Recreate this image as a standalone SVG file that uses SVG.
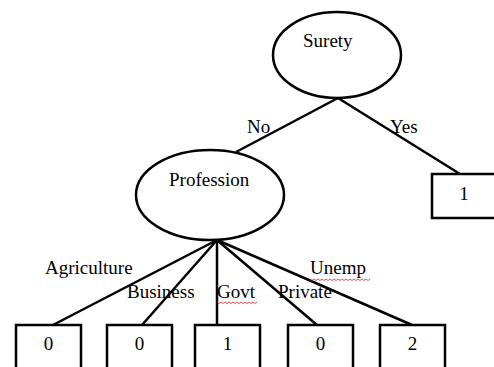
<svg xmlns="http://www.w3.org/2000/svg" width="494" height="367" viewBox="0 0 494 367" font-family="'Liberation Serif', 'Times New Roman', 'DejaVu Serif', serif">
<style>
.n{fill:#fff;stroke:#000;stroke-width:2.5}
.e{stroke:#000;stroke-width:2.5;fill:none}
text{font-family:'Liberation Serif','DejaVu Serif',serif;font-size:19px;fill:#000}
.c{text-anchor:middle}
.sq{fill:none;stroke:#d22;stroke-width:0.8}
</style>
<rect width="494" height="367" fill="#fff"/>
<g id="connectors">
<line class="e" x1="338" y1="98" x2="236" y2="152"/>
<line class="e" x1="338" y1="98" x2="460" y2="174"/>
<line class="e" x1="217" y1="240" x2="53" y2="325"/>
<line class="e" x1="217" y1="240" x2="142" y2="325"/>
<line class="e" x1="217" y1="240" x2="217" y2="325"/>
<line class="e" x1="217" y1="240" x2="317" y2="325"/>
<line class="e" x1="217" y1="240" x2="412" y2="325"/>
<text x="247" y="133">No</text>
<text x="390" y="133">Yes</text>
<text x="45" y="274">Agriculture</text>
<text x="127" y="298">Business</text>
<text x="217" y="298">Govt</text>
<text x="278" y="298">Private</text>
<text x="310" y="274">Unemp</text>
<path class="sq" d="M217 302 l2 1.5 l2 -1.5 l2 1.5 l2 -1.5 l2 1.5 l2 -1.5 l2 1.5 l2 -1.5 l2 1.5 l2 -1.5 l2 1.5 l2 -1.5 l2 1.5 l2 -1.5 l2 1.5 l2 -1.5 l2 1.5 l2 -1.5 l2 1.5 l2 -1.5"/>
<path class="sq" d="M310 279 l2 1.5 l2 -1.5 l2 1.5 l2 -1.5 l2 1.5 l2 -1.5 l2 1.5 l2 -1.5 l2 1.5 l2 -1.5 l2 1.5 l2 -1.5 l2 1.5 l2 -1.5 l2 1.5 l2 -1.5 l2 1.5 l2 -1.5 l2 1.5 l2 -1.5 l2 1.5 l2 -1.5 l2 1.5 l2 -1.5 l2 1.5 l2 -1.5 l2 1.5 l2 -1.5 l2 1.5 l2 -1.5"/>
</g>
<g id="surety"><ellipse class="n" cx="337" cy="55" rx="64" ry="43"/><text x="303" y="47">Surety</text></g>
<g id="profession"><ellipse class="n" cx="210" cy="195" rx="74" ry="45"/><text x="169" y="186">Profession</text></g>
<g id="leaf-yes"><rect class="n" x="432" y="174" width="65" height="44"/><text class="c" x="464" y="200">1</text></g>
<g id="leaf-agri"><rect class="n" x="16" y="325" width="65" height="46"/><text class="c" x="48.5" y="350">0</text></g>
<g id="leaf-business"><rect class="n" x="107" y="325" width="65" height="46"/><text class="c" x="139.5" y="350">0</text></g>
<g id="leaf-govt"><rect class="n" x="195" y="325" width="65" height="46"/><text class="c" x="227.5" y="350">1</text></g>
<g id="leaf-private"><rect class="n" x="288" y="325" width="65" height="46"/><text class="c" x="320.5" y="350">0</text></g>
<g id="leaf-unemp"><rect class="n" x="380" y="325" width="65" height="46"/><text class="c" x="412.5" y="350">2</text></g>
</svg>
